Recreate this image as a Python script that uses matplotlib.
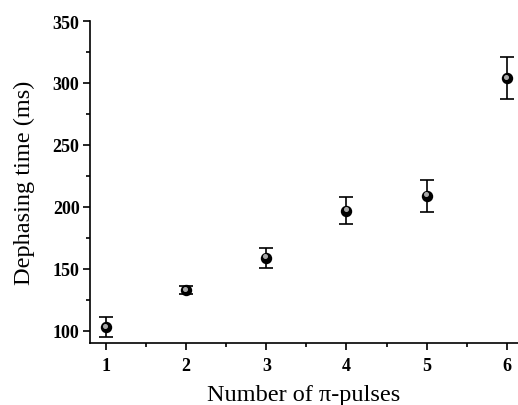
import matplotlib.pyplot as plt
import matplotlib.transforms as mtransforms
from matplotlib.ticker import MultipleLocator

# number of pi-pulses vs dephasing time
n_pulses = [1, 2, 3, 4, 5, 6]
t_deph = [103, 133, 159, 197, 209, 304]
t_err = [8, 3, 8, 11, 13, 17]

plt.rcParams['font.family'] = ['Liberation Serif', 'DejaVu Serif']

fig = plt.figure(figsize=(5.18, 4.06), dpi=100)
ax = fig.add_axes([0.1737, 0.152, 0.8263, 0.7938])

ax.errorbar(n_pulses, t_deph, yerr=t_err, fmt='o', color='black',
            markersize=7.2, capsize=5, elinewidth=1.2, capthick=1.2, zorder=3)
# little grey highlight on each marker
shine = mtransforms.offset_copy(ax.transData, fig=fig, x=-0.6, y=1.0, units='points')
ax.plot(n_pulses, t_deph, 'o', color='#a8a8a8', markersize=2.6,
        transform=shine, zorder=4)

ax.set_xlim(0.8, 6.14)
ax.set_ylim(90, 350)
ax.xaxis.set_major_locator(MultipleLocator(1))
ax.xaxis.set_minor_locator(MultipleLocator(0.5))
ax.yaxis.set_major_locator(MultipleLocator(50))
ax.yaxis.set_minor_locator(MultipleLocator(25))

ax.spines['top'].set_visible(False)
ax.spines['right'].set_visible(False)
for s in ['left', 'bottom']:
    ax.spines[s].set_linewidth(1.2)

ax.tick_params(which='major', direction='out', length=5, width=1.2,
               labelsize=13, pad=2.5)
ax.tick_params(axis='x', which='major', pad=5)
ax.tick_params(which='minor', direction='out', length=3, width=1.2)
for lab in ax.get_xticklabels() + ax.get_yticklabels():
    lab.set_fontweight('bold')

ax.set_xlabel('Number of π-pulses', fontsize=17.5, labelpad=7)
ax.set_ylabel('Dephasing time (ms)', fontsize=17.5, labelpad=13)

fig.savefig('out.png', dpi=100)
